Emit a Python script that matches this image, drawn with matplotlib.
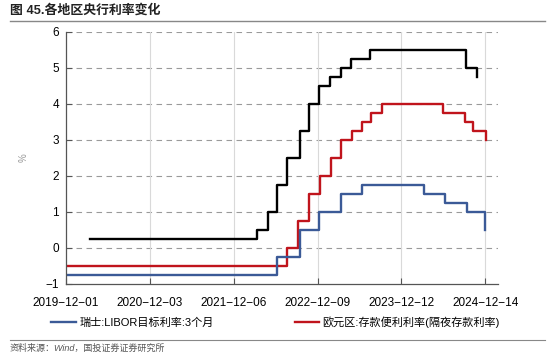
import pandas as pd
import matplotlib.pyplot as plt
from matplotlib.lines import Line2D

plt.rcParams['font.family'] = ['Liberation Sans', 'Noto Sans CJK SC']
plt.rcParams['axes.unicode_minus'] = True

# Data: policy rate change dates and levels (%)
us_dates = ['2020-03-16', '2022-03-17', '2022-05-05', '2022-06-16', '2022-07-28',
            '2022-09-22', '2022-11-03', '2022-12-15', '2023-02-02', '2023-03-23',
            '2023-05-04', '2023-07-27', '2024-09-19', '2024-11-08']
us_rate = [0.25, 0.5, 1.0, 1.75, 2.5, 3.25, 4.0, 4.5, 4.75, 5.0, 5.25, 5.5, 5.0, 4.75]

ez_dates = ['2019-12-01', '2022-07-27', '2022-09-14', '2022-11-02', '2022-12-21',
            '2023-02-08', '2023-03-22', '2023-05-10', '2023-06-21', '2023-08-02',
            '2023-09-20', '2024-06-12', '2024-09-18', '2024-10-23', '2024-12-18']
ez_rate = [-0.5, 0.0, 0.75, 1.5, 2.0, 2.5, 3.0, 3.25, 3.5, 3.75, 4.0, 3.75, 3.5, 3.25, 3.0]

ch_dates = ['2019-12-01', '2022-06-16', '2022-09-22', '2022-12-15', '2023-03-23',
            '2023-06-22', '2024-03-21', '2024-06-20', '2024-09-26', '2024-12-12']
ch_rate = [-0.75, -0.25, 0.5, 1.0, 1.5, 1.75, 1.5, 1.25, 1.0, 0.5]

tick_labels = ['2019-12-01', '2020-12-03', '2021-12-06', '2022-12-09', '2023-12-12', '2024-12-14']

ch_label = '瑞士:LIBOR目标利率:3个月'
ez_label = '欧元区:存款便利利率(隔夜存款利率)'

black = '#000000'
red = '#C0141C'
blue = '#3B5A97'

fig = plt.figure(figsize=(5.5, 3.57), dpi=100)
ax = fig.add_axes([66 / 550, 1 - 284 / 357, (498 - 66) / 550, (284 - 32) / 357])

ax.step(pd.to_datetime(us_dates), us_rate, where='post', color=black, lw=1.7)
ax.step(pd.to_datetime(ez_dates), ez_rate, where='post', color=red, lw=1.7)
ax.step(pd.to_datetime(ch_dates), ch_rate, where='post', color=blue, lw=1.7)

ax.set_xlim(pd.Timestamp('2019-12-01'), pd.Timestamp('2025-02-08'))
ax.set_ylim(-1, 6)
ax.set_yticks(range(-1, 7))
ticks = pd.to_datetime(tick_labels)
ax.set_xticks(ticks)
ax.set_xticklabels([t.replace('-', '\u2212') for t in tick_labels])

# grid: dashed horizontal, light solid vertical
for y in range(0, 7):
    ax.axhline(y, color='#9a9a9a', lw=0.8, ls=(0, (5, 4)), zorder=0)
for t in ticks[1:]:
    ax.axvline(t, color='#d9d9d9', lw=0.8, zorder=0)

for s in ['top', 'right']:
    ax.spines[s].set_visible(False)
for s in ['left', 'bottom']:
    ax.spines[s].set_color('#555555')
    ax.spines[s].set_linewidth(0.9)
ax.tick_params(direction='in', length=4, width=0.8, color='#555555', labelsize=8.5)
ax.tick_params(axis='x', pad=9)
ax.tick_params(axis='y', pad=5)
ax.set_ylabel('%', color='#999999', fontsize=7, rotation=90, labelpad=12)

# Title and source
fig.text(10 / 550, 1 - 10 / 357, '图 45.各地区央行利率变化', fontsize=9.3, fontweight='bold',
         va='center', ha='left', color='#222222')
fig.add_artist(Line2D([10 / 550, 545 / 550], [1 - 21 / 357, 1 - 21 / 357], color='#888888', lw=1))
fig.add_artist(Line2D([10 / 550, 545 / 550], [1 - 340 / 357, 1 - 340 / 357], color='#888888', lw=0.8))
fig.text(10 / 550, 1 - 348 / 357, '资料来源：Wind，国投证券证券研究所', fontsize=6.5, style='italic',
         va='center', ha='left', color='#555555')

handles = [Line2D([], [], color=blue, lw=1.7), Line2D([], [], color=red, lw=1.7)]
fig.legend(handles, [ch_label, ez_label], loc='center left', ncol=2, frameon=False,
           bbox_to_anchor=(47 / 550, 1 - 322 / 357), fontsize=8, handlelength=2.2,
           handletextpad=0.3, columnspacing=7.3, borderaxespad=0)

fig.savefig('out.png', dpi=100)
